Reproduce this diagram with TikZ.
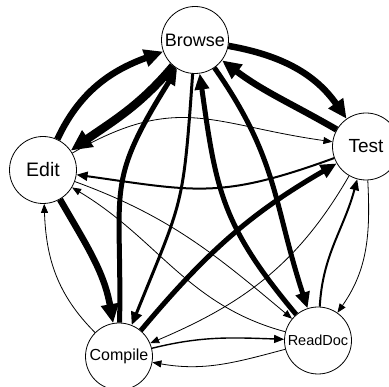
\documentclass[tikz,border=0pt]{standalone}
\usepackage{fontspec}
\setmainfont{Liberation Sans}
\usetikzlibrary{arrows.meta}

\begin{document}
\begin{tikzpicture}[x=1pt,y=1pt,
  act/.style={minimum size=67pt,inner sep=0pt,draw,circle,line width=0.8pt,fill=white},
  fa/.style={line width=0.8pt,-{Triangle[length=9pt,width=7pt]}},
  fb/.style={line width=1.4pt,-{Triangle[length=10pt,width=8pt]}},
  fc/.style={line width=2pt,-{Triangle[length=11pt,width=9pt]}},
  fd/.style={line width=3pt,-{Triangle[length=13pt,width=11pt]}},
  fe/.style={line width=5pt,-{Triangle[length=16pt,width=14pt]}},
  ff/.style={line width=6.5pt,-{Triangle[length=19pt,width=17pt]}},
  fg/.style={line width=8.5pt,-{Triangle[length=21pt,width=19pt]}}]
\useasboundingbox (0,0) rectangle (389,387);
\draw (195,347) node[act](browse) {\fontsize{18}{18}\selectfont Browse};
\draw (43,217) node[act](edit) {\fontsize{19.5}{19.5}\selectfont Edit};
\draw (366,240.5) node[act](test) {\fontsize{19}{19}\selectfont Test};
\draw (119,30.5) node[act](compile) {\fontsize{16}{16}\selectfont Compile};
\draw (318,46.5) node[act](readdoc) {\fontsize{14.5}{14.5}\selectfont ReadDoc};
% edges around browse
\draw[ff] (edit) to[out=65,in=200] (browse);
\draw[fg] (browse) to[out=230,in=35] (edit);
\draw[ff] (browse) to[out=-10,in=125] (test);
\draw[ff] (test) to[out=150,in=-37] (browse);
\draw[fe] (compile) to[out=89,in=238,looseness=1.35] (browse);
\draw[fd] (browse) to[out=-94,in=68,looseness=1.35] (compile);
\draw[fe] (readdoc) to[out=130,in=-82,looseness=1.15] (browse);
\draw[fe] (browse) to[out=-55,in=108,looseness=1.1] (readdoc);
% edit and test
\draw[fa] (edit) to[out=30,in=172,looseness=1.2] (test);
\draw[fc] (test) to[out=200,in=-8,looseness=1.2] (edit);
% edit and compile
\draw[ff] (edit) to[out=-60,in=100] (compile);
\draw[fa] (compile) to[out=135,in=-88] (edit);
% compile and test
\draw[fe] (compile) to[out=50,in=210] (test);
\draw[fa] (test) to[out=240,in=23] (compile);
% edit and readdoc
\draw[fa] (edit) to[out=-20,in=140] (readdoc);
\draw[fa] (readdoc) to[out=165,in=-31] (edit);
% compile and readdoc
\draw[fb] (compile) to[out=14,in=178] (readdoc);
\draw[fa] (readdoc) to[out=195,in=-10] (compile);
% readdoc and test
\draw[fc] (readdoc) to[out=87,in=255] (test);
\draw[fa] (test) to[out=-87,in=55] (readdoc);
\end{tikzpicture}
\end{document}
